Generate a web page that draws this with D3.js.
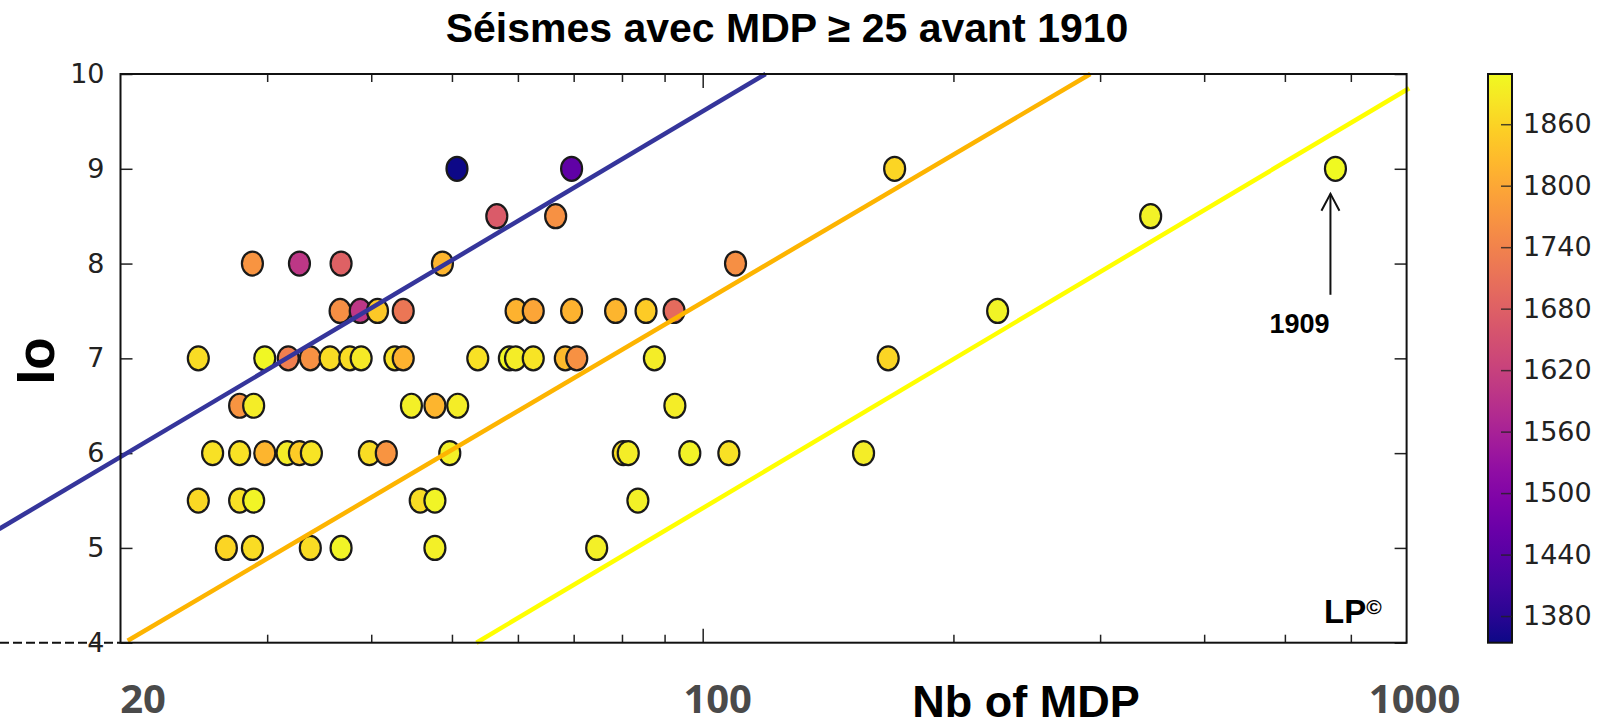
<!DOCTYPE html>
<html>
<head>
<meta charset="utf-8">
<script src="https://cdn.jsdelivr.net/npm/d3@7"></script>
<style>
  body { margin: 0; background: #fff; }
  svg { display: block; }
  .tick text { font-family: "DejaVu Sans", sans-serif; font-size: 27px; fill: #222; }
  .tick line { stroke: #222; stroke-width: 1.5; }
  .domain { display: none; }
</style>
</head>
<body>
<div id="chart"></div>
<script>
// nombre de MDP, intensite epicentrale, annee du seisme
var nbMDP = [50.7, 69.6, 170, 575,
  56.6, 66.6, 345,
  28.8, 32.8, 36.8, 48.7, 109.5,
  36.7, 38.8, 40.7, 43.7, 59.7, 62.6, 69.6, 78.6, 85.5, 92.4, 226,
  24.8, 29.8, 31.8, 33.8, 35.7, 37.7, 38.9, 42.7, 43.7, 53.7, 58.6, 59.6, 62.6, 68.4, 70.6, 87.5, 167,
  27.8, 28.9, 44.7, 47.7, 50.8, 92.6,
  25.8, 27.8, 29.8, 31.7, 32.8, 33.9, 39.8, 41.7, 49.7, 80.3, 81.4, 96.5, 107.5, 156,
  24.8, 27.8, 28.9, 45.8, 47.7, 83.6,
  26.8, 28.8, 33.8, 36.8, 47.7, 74.6];
var io = [9, 9, 9, 9,
  8.5, 8.5, 8.5,
  8, 8, 8, 8, 8,
  7.5, 7.5, 7.5, 7.5, 7.5, 7.5, 7.5, 7.5, 7.5, 7.5, 7.5,
  7, 7, 7, 7, 7, 7, 7, 7, 7, 7, 7, 7, 7, 7, 7, 7, 7,
  6.5, 6.5, 6.5, 6.5, 6.5, 6.5,
  6, 6, 6, 6, 6, 6, 6, 6, 6, 6, 6, 6, 6, 6,
  5.5, 5.5, 5.5, 5.5, 5.5, 5.5,
  5, 5, 5, 5, 5, 5];
var years = [1356, 1450, 1862, 1909,
  1670, 1765, 1900,
  1770, 1600, 1680, 1820, 1760,
  1760, 1600, 1845, 1720, 1815, 1795, 1815, 1820, 1850, 1700, 1902,
  1872, 1905, 1735, 1765, 1872, 1872, 1888, 1878, 1815, 1878, 1905, 1892, 1882, 1825, 1765, 1892, 1862,
  1770, 1892, 1896, 1820, 1892, 1892,
  1878, 1878, 1820, 1892, 1850, 1882, 1872, 1770, 1896, 1872, 1892, 1900, 1878, 1892,
  1866, 1878, 1902, 1872, 1902, 1896,
  1862, 1872, 1872, 1902, 1896, 1896];

// droites (extremites en N et Io)
var blueN = [14.3, 119], blueIo = [5.2, 10];
var orangeN = [20.4, 292], orangeIo = [4.02, 10];
var yellowN = [53.5, 705], yellowIo = [4, 9.85];

var yTicks = [4, 5, 6, 7, 8, 9, 10];
var xMinor = [30, 40, 50, 60, 70, 80, 90, 200, 300, 400, 500, 600];
var xMajor = [100];
var cbTicks = [1380, 1440, 1500, 1560, 1620, 1680, 1740, 1800, 1860];
var xLabels = ["20", "100", "1000"];

(function() {
var W = 1606, H = 728;
var pLeft = 120.5, pRight = 1406.6, pTop = 74, pBottom = 642.7;

var svg = d3.select("#chart").append("svg")
    .attr("width", W)
    .attr("height", H);

var x = d3.scaleLog().domain([20, 700]).range([pLeft, pRight]);
var y = d3.scaleLinear().domain([4, 10]).range([pBottom, pTop]);
var color = d3.scaleSequential(d3.interpolatePlasma).domain([1354, 1909]);

var pts = nbMDP.map(function(n, i) { return {n: n, io: io[i], year: years[i]}; });

// ligne pointillee sous le 4
svg.append("line")
    .attr("x1", 0).attr("x2", pLeft)
    .attr("y1", y(4)).attr("y2", y(4))
    .attr("stroke", "#111").attr("stroke-width", 2)
    .attr("stroke-dasharray", "9,4");

// axes (ticks vers l'interieur)
svg.append("g")
    .attr("transform", "translate(" + pLeft + ",0)")
    .call(d3.axisLeft(y).tickValues(yTicks).tickFormat(d3.format("d"))
      .tickSizeInner(-12).tickSizeOuter(0).tickPadding(16));
svg.append("g")
    .attr("transform", "translate(" + pRight + ",0)")
    .call(d3.axisRight(y).tickValues(yTicks).tickFormat("")
      .tickSizeInner(-12).tickSizeOuter(0));
[[pBottom, d3.axisBottom], [pTop, d3.axisTop]].forEach(function(a) {
  svg.append("g").attr("transform", "translate(0," + a[0] + ")")
      .call(a[1](x).tickValues(xMinor).tickFormat("").tickSizeInner(-8).tickSizeOuter(0));
  svg.append("g").attr("transform", "translate(0," + a[0] + ")")
      .call(a[1](x).tickValues(xMajor).tickFormat("").tickSizeInner(-14).tickSizeOuter(0));
});

// points
svg.append("g").selectAll("ellipse")
    .data(pts)
  .enter().append("ellipse")
    .attr("cx", function(d) { return x(d.n); })
    .attr("cy", function(d) { return y(d.io); })
    .attr("rx", 10.5)
    .attr("ry", 12)
    .attr("fill", function(d) { return color(d.year); })
    .attr("stroke", "#1a1a1a")
    .attr("stroke-width", 2.2);

// droites
var line = d3.line()
    .x(function(d) { return x(d[0]); })
    .y(function(d) { return y(d[1]); });
[[blueN, blueIo, "#35359b"], [orangeN, orangeIo, "#fdb400"], [yellowN, yellowIo, "#ffff00"]].forEach(function(l) {
  svg.append("path")
      .datum(l[0].map(function(n, i) { return [n, l[1][i]]; }))
      .attr("d", line)
      .attr("fill", "none")
      .attr("stroke", l[2])
      .attr("stroke-width", 4.5);
});

// cadre
svg.append("rect")
    .attr("x", pLeft).attr("y", pTop)
    .attr("width", pRight - pLeft).attr("height", pBottom - pTop)
    .attr("fill", "none").attr("stroke", "#111").attr("stroke-width", 2);

// barre de couleur
var cb = d3.scaleLinear().domain([1354, 1909]).range([pBottom, pTop]);
var grad = svg.append("defs").append("linearGradient")
    .attr("id", "plasma").attr("x1", 0).attr("y1", 1).attr("x2", 0).attr("y2", 0);
d3.range(0, 1.0001, 0.05).forEach(function(t) {
  grad.append("stop").attr("offset", t).attr("stop-color", d3.interpolatePlasma(t));
});
svg.append("rect")
    .attr("x", 1488).attr("y", pTop)
    .attr("width", 24).attr("height", pBottom - pTop)
    .attr("fill", "url(#plasma)")
    .attr("stroke", "#111").attr("stroke-width", 2);
var cbAxis = svg.append("g")
    .attr("transform", "translate(1512,0)")
    .call(d3.axisRight(cb).tickValues(cbTicks).tickFormat(d3.format("d"))
      .tickSizeInner(-11).tickSizeOuter(0).tickPadding(11));
cbAxis.selectAll(".tick line").attr("stroke", "#333").attr("stroke-opacity", 0.8);

// textes
svg.append("text")
    .attr("x", 787).attr("y", 42)
    .attr("text-anchor", "middle")
    .style("font-family", "'Liberation Sans', Arial, sans-serif")
    .style("font-weight", "bold").style("font-size", "41px")
    .text("Séismes avec MDP ≥ 25 avant 1910");

svg.append("text")
    .attr("transform", "translate(54,361) rotate(-90)")
    .attr("text-anchor", "middle")
    .style("font-family", "'Liberation Sans', Arial, sans-serif")
    .style("font-weight", "bold").style("font-size", "53px")
    .text("Io");

svg.append("text")
    .attr("x", 1026).attr("y", 717)
    .attr("text-anchor", "middle")
    .style("font-family", "'Liberation Sans', Arial, sans-serif")
    .style("font-weight", "bold").style("font-size", "45px")
    .text("Nb of MDP");

// etiquettes de l'axe x ajoutees a la main (1000 est pose au bord droit)
var xLabelPos = [x(20) + 22.5, x(100) + 15, pRight + 8];
svg.selectAll(".xlab")
    .data(xLabels)
  .enter().append("text")
    .attr("class", "xlab")
    .attr("x", function(d, i) { return xLabelPos[i]; })
    .attr("y", 713)
    .attr("text-anchor", "middle")
    .style("font-family", "'Open Sans', sans-serif")
    .style("font-weight", "bold").style("font-size", "40px")
    .style("fill", "#4a4a4a")
    .text(function(d) { return d; });

// annotation 1909
var p1909 = pts[3];
var ax = x(p1909.n) - 5, ay = y(p1909.io);
svg.append("line")
    .attr("x1", ax).attr("x2", ax)
    .attr("y1", ay + 126).attr("y2", ay + 25)
    .attr("stroke", "#111").attr("stroke-width", 2);
svg.append("path")
    .attr("d", "M" + (ax - 9) + "," + (ay + 42) + "L" + ax + "," + (ay + 25) + "L" + (ax + 9) + "," + (ay + 42))
    .attr("fill", "none").attr("stroke", "#111").attr("stroke-width", 2);
svg.append("text")
    .attr("x", ax - 31).attr("y", 333)
    .attr("text-anchor", "middle")
    .style("font-family", "'Liberation Sans', Arial, sans-serif")
    .style("font-weight", "bold").style("font-size", "27px")
    .text("1909");

// signature
var lp = svg.append("text")
    .attr("x", 1324).attr("y", 623)
    .style("font-family", "'Liberation Sans', Arial, sans-serif")
    .style("font-weight", "bold").style("font-size", "33px")
    .text("LP");
lp.append("tspan")
    .attr("dy", -9)
    .style("font-size", "21px")
    .text("©");
})();
</script>
</body>
</html>
